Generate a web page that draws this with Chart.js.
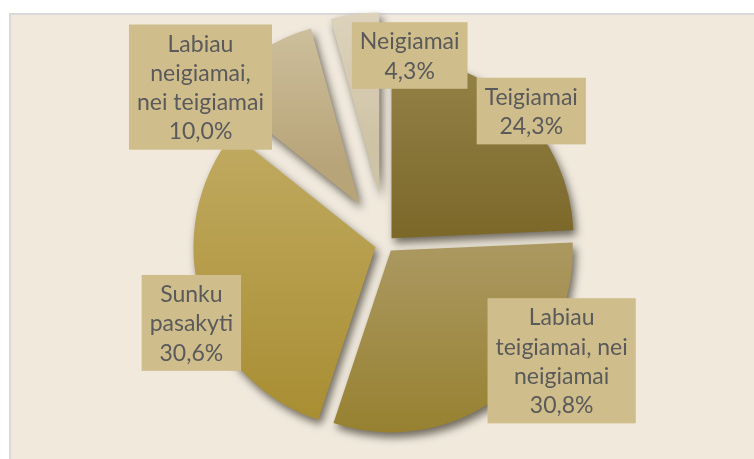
<!DOCTYPE html>
<html>
<head>
<meta charset="utf-8">
<script src="https://cdn.jsdelivr.net/npm/chart.js@4/dist/chart.umd.min.js"></script>
<style>
  html, body { margin: 0; padding: 0; background: #ffffff; }
  #wrap { width: 754px; height: 459px; }
</style>
</head>
<body>
<div id="wrap"><canvas id="pyragas" width="754" height="459"></canvas></div>
<script>
// duomenys
var categories = [
    ['Teigiamai'],
    ['Labiau', 'teigiamai, nei', 'neigiamai'],
    ['Sunku', 'pasakyti'],
    ['Labiau', 'neigiamai,', 'nei teigiamai'],
    ['Neigiamai']
];
var shares = [24.3, 30.8, 30.6, 10.0, 4.3];

// stilius
var sliceTop    = ['#958349', '#ab9860', '#c0aa60', '#d3c7a6', '#e2d9c6'];
var sliceBottom = ['#7c692a', '#96802f', '#a88d32', '#b8a479', '#cfc3a5'];
var explode = [8, 8, 11, 48, 50];   // sektorių atitraukimas, px
var pieRadius = 182;
// etikečių vieta: posūkis nuo sektoriaus vidurio (laipsniais) ir atstumas (spindulio dalimis)
var labelTurn = [3.8, -19.3, -5.5, -16.3, 14.9];
var labelDist = [1.082, 1.159, 1.154, 1.335, 1.044];

function fmt(v) {
    return v.toFixed(1).replace('.', ',') + '%';
}

function sliceAngles(i) {
    var total = shares.reduce(function(a, b) { return a + b; }, 0);
    var a0 = 0;
    for (var k = 0; k < i; k++) a0 += shares[k] / total * 2 * Math.PI;
    return [a0, a0 + shares[i] / total * 2 * Math.PI];
}

function sliceGradient(c) {
    var chart = c.chart, area = chart.chartArea, i = c.dataIndex;
    if (!area) return sliceTop[i];
    var a = sliceAngles(i), mid = (a[0] + a[1]) / 2;
    var cy = (area.top + area.bottom) / 2 - Math.cos(mid) * explode[i];
    var ys = [cy, cy - pieRadius * Math.cos(a[0]), cy - pieRadius * Math.cos(a[1])];
    if (a[0] <= 0.0001 || a[1] >= 2 * Math.PI - 0.0001) ys.push(cy - pieRadius);
    if (a[0] < Math.PI && a[1] > Math.PI) ys.push(cy + pieRadius);
    var g = chart.ctx.createLinearGradient(0, Math.min.apply(null, ys), 0, Math.max.apply(null, ys));
    g.addColorStop(0, sliceTop[i]);
    g.addColorStop(1, sliceBottom[i]);
    return g;
}

var fonas = {
    id: 'fonas',
    beforeDraw: function(chart) {
        var ctx = chart.ctx;
        ctx.save();
        ctx.fillStyle = '#ffffff';
        ctx.fillRect(0, 0, chart.width, chart.height);
        ctx.fillStyle = '#f0e9dc';
        ctx.fillRect(10, 14, chart.width, chart.height);
        ctx.strokeStyle = '#d9d9d9';
        ctx.lineWidth = 2;
        ctx.strokeRect(10, 14, chart.width + 10, chart.height + 10);
        ctx.restore();
    }
};

// sektoriai piešiami patys, kad būtų tikras atitraukimas ir šešėlis
var sektoriai = {
    id: 'sektoriai',
    beforeDatasetsDraw: function(chart) {
        var ctx = chart.ctx;
        var meta = chart.getDatasetMeta(0);
        meta.data.forEach(function(arc, i) {
            var mid = (arc.startAngle + arc.endAngle) / 2;
            ctx.save();
            ctx.shadowColor = 'rgba(40, 35, 25, 0.65)';
            ctx.shadowBlur = 9;
            ctx.shadowOffsetX = 3;
            ctx.shadowOffsetY = 5;
            ctx.translate(Math.cos(mid) * explode[i], Math.sin(mid) * explode[i]);
            arc.draw(ctx);
            ctx.restore();
        });
        return false;
    }
};

var etiketes = {
    id: 'etiketes',
    afterDraw: function(chart) {
        var ctx = chart.ctx;
        var meta = chart.getDatasetMeta(0);
        var lineH = 29.3;
        ctx.save();
        ctx.font = '23px Lato';
        ctx.textAlign = 'center';
        ctx.textBaseline = 'middle';
        meta.data.forEach(function(arc, i) {
            var mid = (arc.startAngle + arc.endAngle) / 2 + Math.PI / 2 + labelTurn[i] * Math.PI / 180;
            var d = pieRadius * labelDist[i];
            var x = arc.x + Math.sin(mid) * d;
            var y = arc.y - Math.cos(mid) * d;
            var lines = categories[i].concat([fmt(shares[i])]);
            var w = 0;
            lines.forEach(function(t) { w = Math.max(w, ctx.measureText(t).width); });
            var bw = w + 16, bh = lines.length * lineH + 8;
            ctx.fillStyle = '#cfbd8b';
            ctx.fillRect(x - bw / 2, y - bh / 2, bw, bh);
            ctx.fillStyle = '#5a5a5a';
            lines.forEach(function(t, k) {
                ctx.fillText(t, x, y - (lines.length - 1) * lineH / 2 + k * lineH + 1);
            });
        });
        ctx.restore();
    }
};

new Chart(document.getElementById('pyragas').getContext('2d'), {
    type: 'pie',
    data: {
        labels: categories.map(function(c) { return c.join(' '); }),
        datasets: [{
            data: shares,
            backgroundColor: sliceGradient,
            borderWidth: 0
        }]
    },
    options: {
        responsive: false,
        animation: false,
        devicePixelRatio: 1,
        radius: pieRadius,
        layout: { padding: { left: 18, top: 29, right: 0, bottom: 0 } },
        plugins: {
            legend: { display: false },
            tooltip: { enabled: false }
        }
    },
    plugins: [fonas, sektoriai, etiketes]
});
</script>
</body>
</html>
